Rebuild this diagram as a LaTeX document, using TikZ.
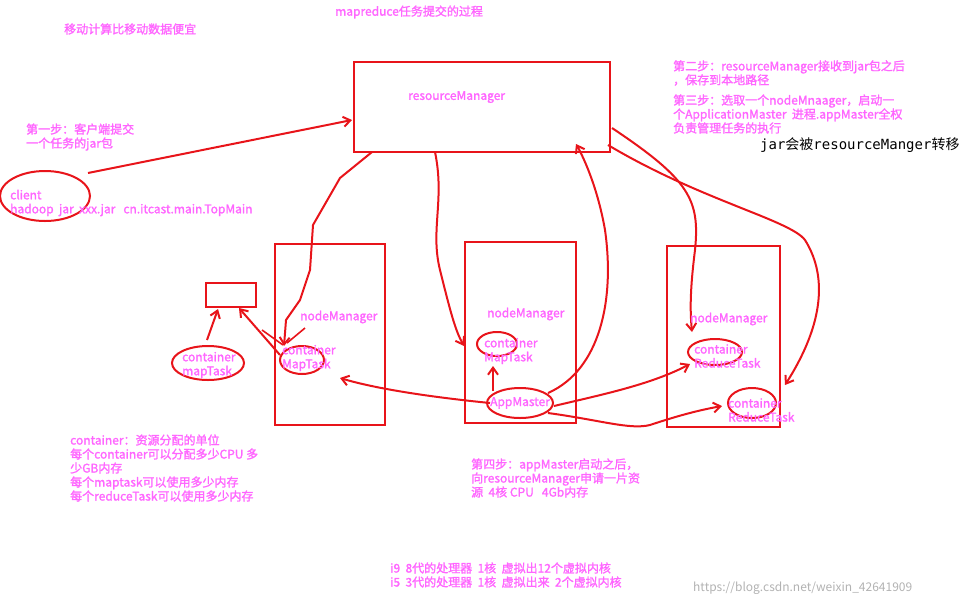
\documentclass[tikz,border=0pt]{standalone}
\usepackage{fontspec}
\setmainfont{Noto Sans CJK SC}
\newfontfamily\bfk{Noto Sans CJK SC}[FakeBold=1.6]
\newfontfamily\jm{DejaVu Sans Mono}
\usetikzlibrary{arrows.meta}
\definecolor{pk}{HTML}{FF66FF}
\definecolor{rd}{HTML}{E8141A}
\tikzset{x=1pt,y=-1pt,
 lbl/.style={text=pk,font=\bfk\fontsize{12}{14}\selectfont,anchor=west,inner sep=0pt,align=left},
 box/.style={draw=rd,line width=1.1pt},
 ell/.style={draw=rd,line width=2pt},
 arr/.style={draw=rd,line width=2pt,-{Straight Barb[length=7pt,width=10pt]}},
 ln/.style={draw=rd,line width=1.6pt}}
\begin{document}
\begin{tikzpicture}
\useasboundingbox (0,0) rectangle (971,606);
% boxes
\node[box,minimum width=256,minimum height=90,inner sep=0] (rm) at (482,107) {};
\node[box,minimum width=110,minimum height=181,inner sep=0] (nm1) at (330,334.5) {};
\node[box,minimum width=111,minimum height=181,inner sep=0] (nm2) at (520.5,332.5) {};
\node[box,minimum width=113,minimum height=181,inner sep=0] (nm3) at (723.5,336.5) {};
\node[box,minimum width=50,minimum height=24,inner sep=0] (sb) at (231,295) {};
% ellipses
\draw[ell] (45,196) ellipse [x radius=45,y radius=25];
\node (cl) at (45,196) {};
\draw[ell] (208,363) ellipse [x radius=36,y radius=17]; \node (cm) at (208,363) {};
\draw[ell] (302,360) ellipse [x radius=22,y radius=14]; \node (c1) at (302,360) {};
\draw[ell] (497,344) ellipse [x radius=20,y radius=12]; \node (c2) at (497,344) {};
\draw[ell] (715,352) ellipse [x radius=27,y radius=13]; \node (c3) at (715,352) {};
\draw[ell] (752,403) ellipse [x radius=24,y radius=15]; \node (c4) at (752,403) {};
\draw[ell] (520,403) ellipse [x radius=33,y radius=15]; \node (am) at (520,403) {};
% connectors
\coordinate (p1) at (88,173);
\draw[arr] (p1) -- (352,120);
\draw[arr] (372,152) -- (340,178) -- (313,225) -- (310,270) -- (300,300) -- (286,320) -- (284,346);
\draw[arr] (435,152) .. controls (445,200) and (430,230) .. (440,270) .. controls (450,310) and (455,330) .. (464,346);
\draw[arr] (548,393) .. controls (600,370) and (615,300) .. (605,230) .. controls (598,190) and (585,160) .. (576,144);
\draw[arr] (612,128) .. controls (690,180) and (700,200) .. (695,250) .. controls (690,290) and (690,310) .. (692,332);
\draw[arr] (608,145) .. controls (700,200) and (790,220) .. (805,240) .. controls (830,280) and (820,330) .. (785,385);
\draw[arr] (490,403) .. controls (440,398) and (380,390) .. (340,378);
\draw[arr] (493,391) -- (493,366);
\draw[arr] (554,406) .. controls (600,395) and (650,385) .. (690,364);
\draw[arr] (548,413) .. controls (600,420) and (630,430) .. (650,425) .. controls (680,415) and (700,410) .. (722,406);
\draw[arr] (207,340) -- (218,309);
\draw[arr] (280,355) -- (239,308);
\draw[ln] (262,330) -- (283,345);
\draw[ln] (305,328) -- (287,343);
% texts
\node[lbl] (t0) at (335,12) {mapreduce任务提交的过程};
\node[lbl] (t1) at (64,29) {移动计算比移动数据便宜};
\node[lbl] (t2) at (408,97) {resourceManager};
\node[lbl] (t3) at (26,137) {第一步：客户端提交\\一个任务的jar包};
\node[lbl] (t4) at (10,203) {client\\hadoop\ \ jar\ \ xxx.jar\ \ \ cn.itcast.main.TopMain};
\node[lbl] (t5) at (673,73) {第二步：resourceManager接收到jar包之后\\，保存到本地路径};
\node[lbl] (t6) at (673,114) {第三步：选取一个nodeMnaager，启动一\\个ApplicationMaster\ \ 进程.appMaster全权\\负责管理任务的执行};
\node[anchor=west,inner sep=0pt,font=\jm\fontsize{14}{15}\selectfont] (t7) at (760,145) {jar\fontspec{Noto Sans CJK SC}会被\jm resourceManger\fontspec{Noto Sans CJK SC}转移};
\node[lbl] (n1) at (300,317) {nodeManager};
\node[lbl] (n2) at (487,314) {nodeManager};
\node[lbl] (n3) at (690,319) {nodeManager};
\node[lbl] (k0) at (182,365) {container\\mapTask};
\node[lbl] (k1) at (282,358) {container\\MapTask};
\node[lbl] (k2) at (484,351) {container\\MapTask};
\node[lbl] (k3) at (694,356) {container\\ReduceTask};
\node[lbl] (k4) at (728,410) {container\\ReduceTask};
\node[lbl] (k5) at (490,403) {AppMaster};
\node[lbl] (b1) at (70,468) {container：资源分配的单位\\每个container可以分配多少CPU 多\\少GB内存\\每个maptask可以使用多少内存\\每个reduceTask可以使用多少内存};
\node[lbl] (b2) at (471,478) {第四步：appMaster启动之后，\\向resourceManager申请一片资\\源\ \ 4核 CPU\ \ \ 4Gb内存};
\node[lbl] (b3) at (390,575) {i9\ \ 8代的处理器\ \ 1核\ \ 虚拟出12个虚拟内核\\i5\ \ 3代的处理器\ \ 1核\ \ 虚拟出来\ \ 2个虚拟内核};
\node[anchor=west,inner sep=0pt,text=gray!60,font=\fontsize{12}{13}\selectfont] (wm) at (693,588) {https://blog.csdn.net/weixin\_42641909};
\end{tikzpicture}
\end{document}
